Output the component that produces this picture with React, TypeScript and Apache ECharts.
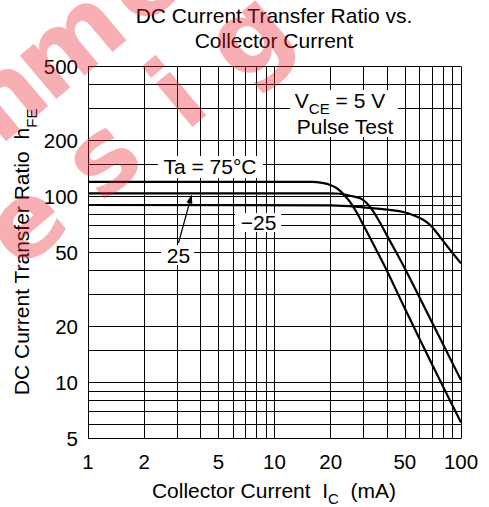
import React, { useEffect, useRef } from "react";
import * as echarts from "echarts";

const xTickLabels = [1, 2, 5, 10, 20, 50, 100];
const yTickLabels = [5, 10, 20, 50, 100, 200, 500];
const xGridValues = [1, 2, 3, 4, 5, 6, 7, 8, 9, 10, 20, 30, 40, 50, 60, 70, 80, 90, 100];
const yGridValues = [5, 6, 7, 8, 9, 10, 15, 20, 30, 40, 50, 60, 70, 80, 90, 100, 150, 200, 300, 400, 500];

// Ta = 75 °C
const ic75 = [1, 10, 16, 18.3, 19.9, 21.6, 23.4, 25.4, 27.6, 30, 35, 40, 50, 70, 100];
const hfe75 = [120, 120, 120, 118, 115.4, 110.8, 103, 93.5, 82, 70, 52, 40, 25, 12.5, 6.1];
// Ta = 25 °C
const ic25 = [1, 20, 22.5, 25.4, 28.8, 31.3, 33.9, 36.9, 40, 50, 70, 100];
const hfe25 = [104, 104, 103.5, 101, 97.9, 92, 83, 72, 62, 41, 21, 10.3];
// Ta = -25 °C
const icM25 = [1, 20, 30, 40, 49, 56, 63, 68.4, 74, 80.7, 90, 100];
const hfeM25 = [90, 89.5, 87.5, 85, 82.5, 79, 74.8, 70.3, 64, 57.2, 49.8, 43.7];

const FONT = '"Liberation Sans", Arial, Helvetica, sans-serif';

function pairs(xs: number[], ys: number[]) {
  return xs.map((x, i) => [x, ys[i]]);
}

function watermarkLetters() {
  const ang = (40 * Math.PI) / 180;
  const dir = [Math.cos(ang), -Math.sin(ang)];
  const nrm = [Math.sin(ang), Math.cos(ang)];
  const lines = [
    { c: 76, letters: [["m", -77], ["m", 25], ["e", 123]] },
    { c: 185, letters: [["e", -124], ["s", -23], ["i", 75], ["g", 167]] },
  ];
  const out: any[] = [];
  lines.forEach((ln) => {
    ln.letters.forEach(([ch, t]: any) => {
      out.push({
        type: "text",
        x: t * dir[0] + ln.c * nrm[0],
        y: t * dir[1] + ln.c * nrm[1],
        rotation: ang,
        z: 100,
        silent: true,
        style: {
          text: ch,
          fill: "rgba(236, 32, 44, 0.36)",
          fontSize: 104,
          fontWeight: "bold",
          fontFamily: '"DejaVu Sans", sans-serif',
          align: "center",
          verticalAlign: "middle",
        },
      });
    });
  });
  return out;
}

function txt(text: string, x: number, y: number, extra: any = {}) {
  return {
    type: "text",
    x,
    y,
    z: 20,
    style: {
      text,
      fill: "#000",
      fontSize: 21,
      lineHeight: 21,
      fontFamily: FONT,
      align: "center",
      verticalAlign: "middle",
      ...extra,
    },
  };
}

function box(x: number, y: number, w: number, h: number) {
  return { type: "rect", z: 15, shape: { x, y, width: w, height: h }, style: { fill: "#fff" } };
}

const richMain = { fontSize: 21, fontFamily: FONT, lineHeight: 21, verticalAlign: "top", fill: "#000" };
function richSub(pad: number) {
  return { fontSize: 15, fontFamily: FONT, lineHeight: 12, padding: [pad, 0, 0, 0], verticalAlign: "top", fill: "#000" };
}

export default function App() {
  const ref = useRef<HTMLDivElement>(null);
  useEffect(() => {
    if (!ref.current) return;
    const chart = echarts.init(ref.current, undefined, { renderer: "svg" });
    const curveStyle = { color: "#000", width: 2.2 };
    const option: any = {
      animation: false,
      backgroundColor: "#fff",
      grid: { left: 88, right: 28, top: 66.5, bottom: 68.5 },
      xAxis: {
        type: "log",
        logBase: 10,
        min: 1,
        max: 100,
        axisLine: { show: false },
        axisTick: { show: false },
        splitLine: { show: false },
        axisLabel: {
          customValues: xTickLabels,
          formatter: (v: number) => String(Math.round(v * 1000) / 1000),
          fontSize: 20.5,
          fontFamily: FONT,
          color: "#000",
          margin: 12,
        },
      },
      yAxis: {
        type: "log",
        logBase: 10,
        min: 5,
        max: 500,
        axisLine: { show: false },
        axisTick: { show: false },
        splitLine: { show: false },
        axisLabel: {
          customValues: yTickLabels,
          formatter: (v: number) => String(Math.round(v * 1000) / 1000),
          fontSize: 20.5,
          fontFamily: FONT,
          color: "#000",
          margin: 10,
        },
      },
      series: [
        {
          name: "grid",
          type: "line",
          data: [],
          z: 1,
          silent: true,
          markLine: {
            silent: true,
            symbol: ["none", "none"],
            label: { show: false },
            lineStyle: { color: "#000", width: 1, type: "solid" },
            data: [
              ...xGridValues.map((v) => ({ xAxis: v })),
              ...yGridValues.map((v) => ({ yAxis: v })),
            ],
          },
        },
        {
          name: "75",
          type: "line",
          data: pairs(ic75, hfe75),
          showSymbol: false,
          smooth: 0.35,
          lineStyle: curveStyle,
          z: 5,
        },
        {
          name: "25",
          type: "line",
          data: pairs(ic25, hfe25),
          showSymbol: false,
          smooth: 0.35,
          lineStyle: curveStyle,
          z: 5,
        },
        {
          name: "-25",
          type: "line",
          data: pairs(icM25, hfeM25),
          showSymbol: false,
          smooth: 0.35,
          lineStyle: curveStyle,
          z: 5,
        },
      ],
      graphic: [
        txt("DC Current Transfer Ratio vs.", 274, 15),
        txt("Collector Current", 274, 40.8),
        {
          type: "text",
          x: 274,
          y: 490.5,
          z: 20,
          style: {
            text: "{a|Collector Current  I}{s|C}{a|  (mA)}",
            rich: { a: richMain, s: richSub(11) },
            align: "center",
            verticalAlign: "middle",
          },
        },
        {
          type: "text",
          x: 21.5,
          y: 252,
          rotation: Math.PI / 2,
          z: 20,
          style: {
            text: "{a|DC Current Transfer Ratio  h}{s|FE}",
            rich: { a: richMain, s: richSub(12.5) },
            align: "center",
            verticalAlign: "middle",
          },
        },
        box(290, 90, 108, 47),
        {
          type: "text",
          x: 340,
          y: 100.8,
          z: 20,
          style: {
            text: "{a|V}{s|CE}{a| = 5 V}",
            rich: { a: richMain, s: richSub(10.5) },
            align: "center",
            verticalAlign: "middle",
          },
        },
        txt("Pulse Test", 345, 126.5),
        box(158, 156, 105, 22),
        txt("Ta = 75°C", 210, 166.5),
        box(235, 213, 46, 19),
        txt("\u221225", 258.5, 222.5),
        box(161, 245, 33, 20),
        txt("25", 178.5, 255),
        {
          type: "line",
          z: 20,
          shape: { x1: 178.5, y1: 243, x2: 190, y2: 201 },
          style: { stroke: "#000", lineWidth: 1.2 },
        },
        {
          type: "polygon",
          z: 20,
          shape: { points: [[191.8, 194.5], [192.3, 204.0], [186.5, 202.4]] },
          style: { fill: "#000" },
        },
        ...watermarkLetters(),
      ],
    };
    chart.setOption(option);
    return () => chart.dispose();
  }, []);
  return (
    <div
      ref={ref}
      style={{ position: "absolute", left: 0, top: 0, width: 489, height: 507 }}
    />
  );
}
